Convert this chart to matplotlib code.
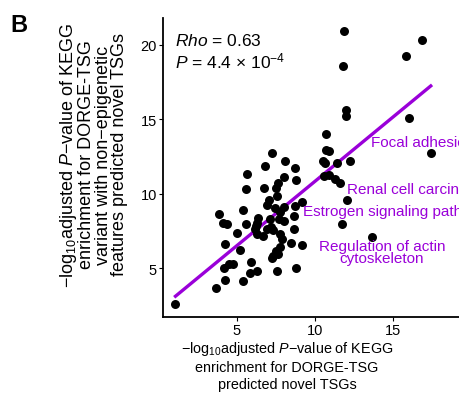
import numpy as np
import matplotlib
matplotlib.use("Agg")
import matplotlib.pyplot as plt

plt.rcParams['font.family'] = ['Liberation Sans', 'DejaVu Sans']
plt.rcParams['mathtext.fontset'] = 'custom'
plt.rcParams['mathtext.rm'] = 'Liberation Sans'
plt.rcParams['mathtext.it'] = 'Liberation Sans:italic'

# -log10 adjusted P (DORGE-TSG predicted novel TSGs)
x_vals = [1.08, 11.9, 11.83, 16.9, 15.83, 12.04, 12.0, 16.03, 17.44, 10.74,
          10.74, 10.95, 10.52, 10.67, 11.42, 12.24, 10.59, 10.89, 11.32, 11.6,
          12.09, 11.72, 13.67, 7.27, 8.1, 6.84, 8.77, 5.64, 8.02, 8.81,
          7.63, 5.6, 6.78, 7.5, 7.59, 9.22, 7.06, 6.97, 8.77, 8.02,
          7.48, 5.39, 3.89, 7.78, 8.7, 6.37, 7.12, 7.74, 4.14, 4.36,
          5.58, 6.28, 8.04, 6.22, 6.2, 7.2, 7.33, 6.97, 8.7, 5.02,
          6.31, 6.69, 7.8, 7.93, 8.49, 9.18, 4.27, 7.8, 5.21, 7.55,
          7.31, 7.27, 7.66, 4.49, 4.76, 4.16, 5.94, 8.81, 6.31, 5.84,
          7.57, 4.23, 5.43, 3.69]
# -log10 adjusted P (variant with non-epigenetic features)
y_vals = [2.61, 20.9, 18.6, 20.3, 19.27, 15.6, 15.2, 15.1, 12.72, 14.0,
          12.96, 12.87, 12.2, 12.1, 12.07, 12.23, 11.2, 11.26, 11.0, 10.7,
          9.61, 8.0, 7.13, 12.74, 12.2, 11.85, 11.73, 11.33, 11.15, 10.95,
          10.7, 10.35, 10.4, 10.37, 9.88, 9.45, 9.59, 9.27, 9.2, 9.14,
          9.03, 8.94, 8.65, 8.76, 8.49, 8.36, 8.33, 8.3, 8.02, 8.0,
          8.0, 8.04, 8.15, 7.86, 7.64, 7.77, 7.57, 7.64, 7.64, 7.35,
          7.3, 7.17, 7.28, 6.97, 6.68, 6.59, 6.61, 6.43, 6.23, 6.14,
          5.85, 5.72, 5.94, 5.31, 5.29, 5.02, 5.4, 5.04, 4.82, 4.69,
          4.8, 4.22, 4.15, 3.68]

label_text = ["Focal adhesion", "Renal cell carcinoma", "Estrogen signaling pathway",
              "Regulation of actin\ncytoskeleton"]
label_x = [13.6, 12.09, 9.27, 14.3]
label_y = [13.5, 10.32, 8.85, 6.09]
label_ha = ["left", "left", "left", "center"]

purple = "#9A00D9"

fig = plt.figure(figsize=(4.59, 4.02), dpi=100)
ax = fig.add_axes([163 / 459, 1 - 318 / 402, 1 - 163 / 459, (318 - 19) / 402])

ax.scatter(x_vals, y_vals, s=42, color="black", linewidths=0, zorder=3)

# linear fit line
coef = np.polyfit(x_vals, y_vals, 1)
xs = np.array([min(x_vals), max(x_vals)])
ax.plot(xs, np.polyval(coef, xs), color=purple, lw=2.4, zorder=2)

for t, lx, ly, ha in zip(label_text, label_x, label_y, label_ha):
    ax.text(lx, ly, t, color=purple, fontsize=11, ha=ha, va="center",
            linespacing=0.75, clip_on=True, zorder=4)

ax.text(0.04, 0.927, "$Rho$ = 0.63", transform=ax.transAxes, fontsize=12.5, va="center")
ax.text(0.04, 0.857, "$P$ = 4.4 × 10$^{-4}$", transform=ax.transAxes, fontsize=12.5, va="center")

ax.set_xlim(0.28, 19.25)
ax.set_ylim(1.73, 21.8)
ax.set_xticks([5, 10, 15])
ax.set_yticks([5, 10, 15, 20])
ax.spines['top'].set_visible(False)
ax.spines['right'].set_visible(False)
for s in ['left', 'bottom']:
    ax.spines[s].set_linewidth(1.3)
ax.tick_params(length=3, width=0.8, labelsize=10.5, colors="black", pad=1.5)

fig.text(287 / 459, 1 - 366 / 402,
         "−log$_{10}$adjusted $P$−value of KEGG\nenrichment for DORGE-TSG\npredicted novel TSGs",
         ha="center", va="center", fontsize=10.4, linespacing=1.3)
fig.text(93 / 459, 1 - 155 / 402,
         "−log$_{10}$adjusted $P$−value of KEGG\nenrichment for DORGE-TSG\n"
         "variant with non−epigenetic\nfeatures predicted novel TSGs",
         ha="center", va="center", rotation=90, fontsize=13, linespacing=0.97)
fig.text(10 / 459, 1 - 14 / 402, "B", fontsize=17, fontweight="bold", ha="left", va="top")

fig.savefig("out.png", dpi=100)
